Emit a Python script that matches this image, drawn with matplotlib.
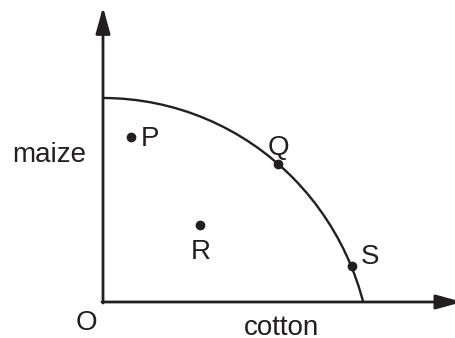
import matplotlib
matplotlib.use("Agg")
import matplotlib.pyplot as plt
from matplotlib.patches import Arc, Rectangle

plt.rcParams['font.family'] = ['Liberation Sans', 'DejaVu Sans']

# Data
point_labels = ['P', 'Q', 'R', 'S']
cotton = [1.07, 6.74, 3.73, 9.57]
maize = [8.07, 6.75, 3.75, 1.74]
label_offsets_px = [(10, -9), (0, 9), (1, -34), (18, 2)]
label_ha = ['left', 'center', 'center', 'center']

# Frontier: elliptical arc (centre and semi-axes in data units)
frontier_center = (0.0, -3.43)
frontier_semi_axes = (10.35, 13.43)

ink = '#231f20'

fig = plt.figure(figsize=(4.55, 3.38), dpi=100)
ax = fig.add_axes([0, 0, 1, 1])
ax.set_xlim(-3.9615, 13.538)
ax.set_ylim(-1.765, 14.804)
ax.axis('off')

# Frontier curve
arc = Arc(frontier_center, 2 * frontier_semi_axes[0], 2 * frontier_semi_axes[1],
          theta1=0, theta2=90, lw=1.7, color=ink, zorder=2)
ax.add_patch(arc)
arc.set_clip_path(Rectangle((0, 0), 30, 30, transform=ax.transData))

# Axes with arrows
arrow_style = '-|>,head_length=0.8,head_width=0.22'
ax.annotate('', xy=(0, 14.46), xytext=(0, -0.05),
            arrowprops=dict(arrowstyle=arrow_style, mutation_scale=20, lw=2.0,
                            color=ink, shrinkA=0, shrinkB=0),
            annotation_clip=False, zorder=3)
ax.annotate('', xy=(13.82, 0), xytext=(-0.04, 0),
            arrowprops=dict(arrowstyle=arrow_style, mutation_scale=20, lw=2.0,
                            color=ink, shrinkA=0, shrinkB=0),
            annotation_clip=False, zorder=3)

# Points
ax.plot(cotton, maize, 'o', ms=6, color=ink, zorder=4, clip_on=False)
for lab, x, y, off, ha in zip(point_labels, cotton, maize, label_offsets_px, label_ha):
    ax.annotate(lab, xy=(x, y), xytext=off, textcoords='offset pixels',
                ha=ha, va='baseline', fontsize=20, color=ink)

# Axis labels
ax.text(-2.08, 6.88, 'maize', ha='center', va='baseline', fontsize=20, color=ink)
ax.text(6.88, -1.62, 'cotton', ha='center', va='baseline', fontsize=20, color=ink)
ax.text(-0.63, -1.35, 'O', ha='center', va='baseline', fontsize=20, color=ink)

fig.savefig('out.png', dpi=100)
